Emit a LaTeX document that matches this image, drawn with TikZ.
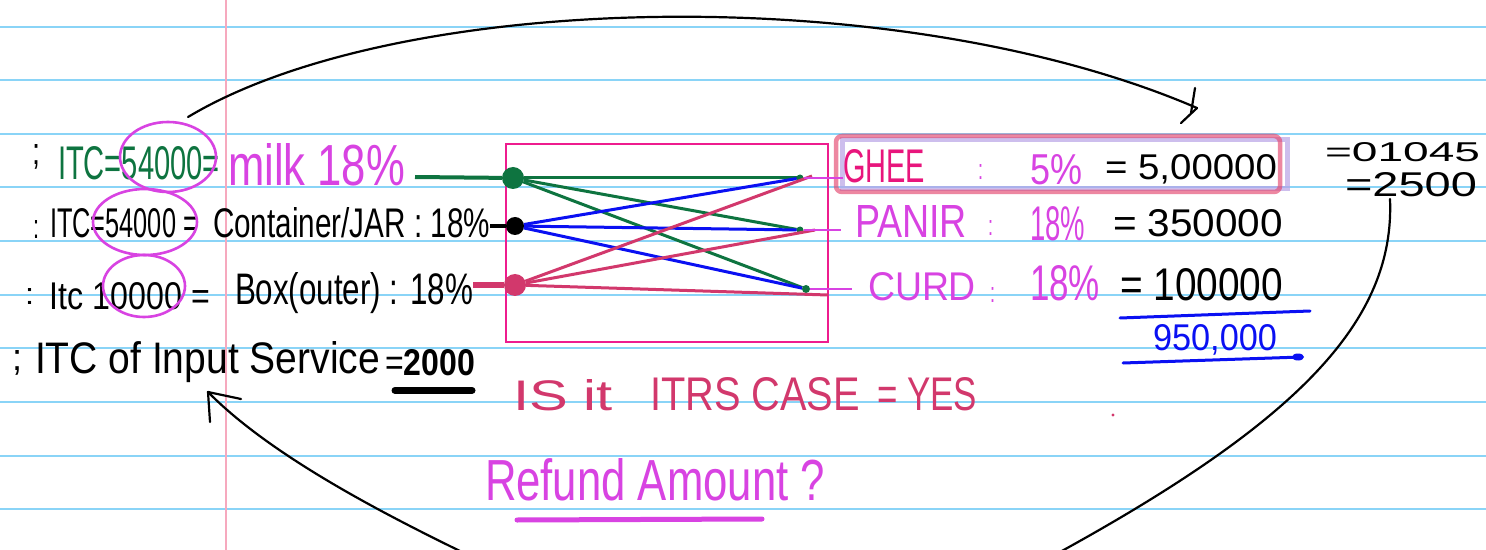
\documentclass[tikz,border=0pt]{standalone}
\usepackage{fontspec}
\setmainfont{Liberation Sans}
\usepackage{graphicx}
\newlength\px
\setlength\px{0.02cm}
% hand-lettered text fitted to a given width and height (in px)
\newcommand\hw[3]{\resizebox{#1\px}{#2\px}{#3}}

\definecolor{ruleblue}{HTML}{8AD4F7}
\definecolor{marginpink}{HTML}{F6A9BE}
\definecolor{inkgreen}{HTML}{0E7440}
\definecolor{inkmag}{HTML}{D843E2}
\definecolor{inkpink}{HTML}{EE1C8E}
\definecolor{inkcrim}{HTML}{D2386C}
\definecolor{inkblue}{HTML}{0A10F2}
\definecolor{gheeink}{HTML}{E8157C}
\definecolor{lav}{HTML}{B9A3E6}
\definecolor{hlred}{HTML}{E4476F}

\tikzset{
  ruled/.style={ruleblue, line width=2\px},
  marginline/.style={marginpink, line width=2\px},
  txt/.style={anchor=base west, inner sep=0pt, outer sep=0pt},
  ring/.style={inkmag, line width=2.6\px},
  wire/.style={line width=3\px},
  dotnode/.style={circle, inner sep=0pt, outer sep=0pt},
  stub/.style={inkmag, line width=2.5\px},
  bigarc/.style={black, line width=2.2\px, line cap=round, line join=round},
}

\begin{document}
\begin{tikzpicture}[x=0.02cm, y=-0.02cm]
\clip (0,0) rectangle (1486,550);
\fill[white] (0,0) rectangle (1486,550);

% notebook paper
\foreach \k in {0,...,9} \draw[ruled] (0,26.7+53.6*\k) -- (1486,26.7+53.6*\k);
\draw[marginline] (226,0) -- (226,550);

% ---------- left column: input credits ----------
\node[txt] (semi1) at (32,165) {\hw{8}{20}{;}};
\node[txt, text=inkgreen] (itc1) at (58,180) {\hw{162}{33}{ITC=54000=}};
\node[txt, text=inkmag] (milk) at (228,186) {\hw{177}{42}{milk 18\%}};

\node[txt] (colon2) at (33,238) {\hw{6}{18}{:}};
\node[txt] (itc2) at (50,238) {\hw{148}{29}{ITC=54000 =}};
\node[txt] (cont) at (213,238) {\hw{277}{30}{Container/JAR : 18\%}};

\node[txt] (colon3) at (25,305) {\hw{9}{16}{:}};
\node[txt] (itc3) at (50,310) {\hw{160}{27}{Itc 10000 =}};
\node[txt] (boxo) at (235,305) {\hw{238}{32}{Box(outer) : 18\%}};

\node[txt] (semi4) at (12,370) {\hw{10}{20}{;}};
\node[txt] (inputs) at (35,373) {\hw{345}{32}{ITC of Input Service}};
\node[txt] (eq2000) at (385,375) {\hw{90}{26}{=\textbf{2000}}};
\draw[line width=7\px, line cap=round]
  ([xshift=-35\px,yshift=-15\px]eq2000.south) -- ([xshift=42\px,yshift=-15\px]eq2000.south);

% rings round the credit amounts
\draw[ring] (168,157) ellipse [x radius=48\px, y radius=35\px];
\draw[ring] (145,222) ellipse [x radius=52\px, y radius=33\px];
\draw[ring] (144,286) ellipse [x radius=41\px, y radius=31\px];

% ---------- mapping box ----------
\draw[inkpink, line width=2.6\px] (506,144) rectangle (828,342);

\coordinate (g0) at (415,177);
\node[dotnode, fill=inkgreen, minimum size=22\px] (L1) at (513,178) {};
\node[dotnode, fill=black, minimum size=18\px] (L2) at (515,226) {};
\node[dotnode, fill=inkcrim, minimum size=22\px] (L3) at (515,285) {};
\node[dotnode, fill=inkgreen, minimum size=7\px] (R1) at (800,178) {};
\node[dotnode, fill=inkgreen, minimum size=7\px] (R2) at (800,230) {};
\node[dotnode, fill=inkgreen, minimum size=8\px] (R3) at (806,289) {};
\coordinate (C1) at (812,176);
\coordinate (C2) at (815,230);
\coordinate (C3) at (828,295);

\draw[inkgreen, line width=4\px] (g0) -- (L1);
\draw[black, line width=4\px] (cont.east |- L2) -- (L2);
\draw[inkcrim, line width=6\px] (boxo.east |- L3) -- (L3);

\foreach \r in {R1,R2,R3} \draw[wire, inkgreen] (L1) -- (\r);
\foreach \r in {R1,R2,R3} \draw[wire, inkblue] (L2) -- (\r);
\foreach \r in {C1,C2,C3} \draw[wire, inkcrim] (L3) -- (\r);

% ---------- right column: outward supplies ----------
\draw[lav, line width=5\px, opacity=0.7] (842,140) rectangle (1287,189);
\draw[hlred, line width=4.5\px, opacity=0.65, rounded corners=6\px] (836,136) rectangle (1280,192);

\node[txt, text=gheeink] (ghee) at (843,183) {\hw{82}{33}{GHEE}};
\node[txt, text=inkmag] (colg) at (978,180) {\hw{5}{15}{:}};
\node[txt, text=inkmag] (pct5) at (1030,185) {\hw{52}{30}{5\%}};
\node[txt] (val1) at (1105,180) {\hw{172}{25}{= 5,00000}};

\node[txt, text=inkmag] (panir) at (855,238) {\hw{112}{32}{PANIR}};
\node[txt, text=inkmag] (colp) at (988,236) {\hw{5}{15}{:}};
\node[txt, text=inkmag] (pct18a) at (1030,240) {\hw{55}{34}{18\%}};
\node[txt] (val2) at (1113,237) {\hw{170}{27}{= 350000}};

\node[txt, text=inkmag] (curd) at (868,300) {\hw{108}{28}{CURD}};
\node[txt, text=inkmag] (colc) at (990,302) {\hw{5}{15}{:}};
\node[txt, text=inkmag] (pct18b) at (1030,300) {\hw{70}{35}{18\%}};
\node[txt] (val3) at (1120,300) {\hw{163}{32}{= 100000}};

\draw[stub] (R1) -- (R1 -| ghee.west);
\draw[stub] (R2) -- ([xshift=-14\px]R2 -| panir.west);
\draw[stub] (R3) -- ([xshift=-16\px]R3 -| curd.west);

% total
\draw[inkblue, line width=3\px, line cap=round] (1120,318) -- (1310,311);
\node[txt, text=inkblue] (total) at (1153,350) {\hw{124}{26}{950,000}};
\draw[inkblue, line width=3\px, line cap=round] (1123,363) -- (1302,357);
\fill[inkblue] (1298,357) ellipse [x radius=6\px, y radius=3.5\px];

% side working
\node[txt] (rt1) at (1325,162) {\hw{155}{19}{=01045}};
\node[txt] (rt2) at (1345,197) {\hw{132}{24}{=2500}};

% ---------- questions ----------
\node[txt, text=inkcrim] (q1) at (513,410) {\hw{100}{31}{IS it}};
\node[txt, text=inkcrim] (q2) at (650,410) {\hw{210}{33}{ITRS CASE}};
\node[txt, text=inkcrim] (q3) at (877,410) {\hw{100}{33}{= YES}};
\fill[inkcrim] (1113,415) circle [radius=1.6\px];

\node[txt, text=inkmag] (refund) at (485,500) {\hw{340}{42}{Refund Amount ?}};
\draw[inkmag, line width=5\px, line cap=round] (517,520) -- (762,519);

% ---------- the loop round the whole working ----------
\coordinate (a0) at (188,117);
\coordinate (a1) at (1197,108);
\coordinate (b0) at (1390,199);
\coordinate (b1) at (1060,552);
\coordinate (c0) at (462,552);
\coordinate (c1) at (208,392);
\draw[bigarc] (a0) .. controls (400,-10) and (900,-20) .. (a1);
\draw[bigarc] (1195,88) -- (1191,113);
\draw[bigarc] (1181,123) -- (a1);
\draw[bigarc] (b0) .. controls (1395,320) and (1300,420) .. (b1);
\draw[bigarc] (c0) .. controls (380,512) and (270,455) .. (c1);
\draw[bigarc] (c1) -- (210,422);
\draw[bigarc] (c1) -- (241,399);
\end{tikzpicture}
\end{document}
